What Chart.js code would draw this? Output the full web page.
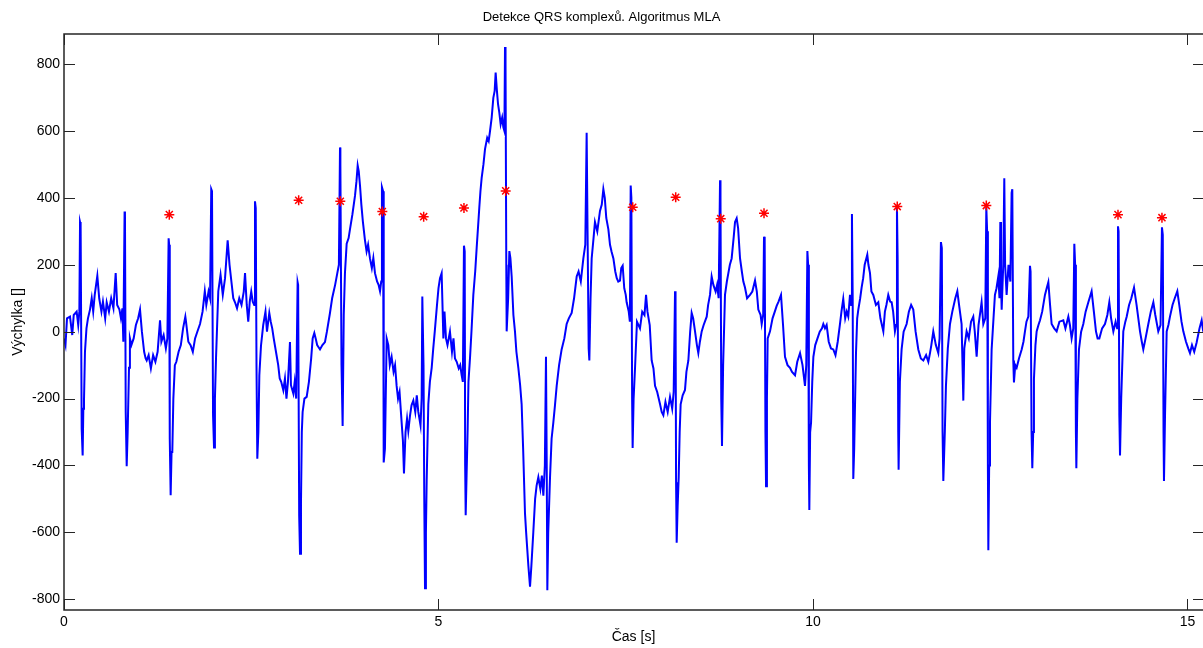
<!DOCTYPE html>
<html>
<head>
<meta charset="utf-8">
<script src="https://cdn.jsdelivr.net/npm/chart.js@4.4.1/dist/chart.umd.min.js"></script>
<style>
html,body{margin:0;padding:0;background:#fff;overflow:hidden;}
#wrap{width:1203px;height:648px;position:relative;}
</style>
</head>
<body>
<div id="wrap"><canvas id="c" width="1203" height="648"></canvas></div>
<script>
const chartTitle = 'Detekce QRS komplexů. Algoritmus MLA';
const xTitle = 'Čas [s]';
const yTitle = 'Výchylka []';
const xTickValues = [0, 5, 10, 15];
const yTickValues = [-800, -600, -400, -200, 0, 200, 400, 600, 800];

// ECG signal: [time s, amplitude]
const ecgPoints = [
[0.00,-20],[0.02,-40],[0.04,40],[0.08,45],[0.11,-10],[0.13,50],[0.169,60],[0.19,20],[0.205,60],
[0.214,328],[0.222,320],[0.236,-290],[0.249,-370],[0.258,-230],[0.267,-206],[0.28,-60],[0.30,10],
[0.32,40],[0.347,66],[0.37,100],[0.39,60],[0.41,110],[0.445,167],[0.47,100],[0.50,60],[0.52,90],[0.55,40],[0.57,88],[0.60,60],[0.63,100],[0.66,70],[0.69,175],[0.71,80],[0.74,66],[0.76,40],[0.78,70],[0.792,-30],
[0.809,359],[0.814,350],[0.824,-240],[0.837,-402],[0.85,-300],[0.868,-108],[0.88,-20],[0.90,-40],
[0.93,-20],[0.96,20],[0.99,40],[1.015,66],[1.04,0],[1.07,-60],[1.09,-80],[1.104,-86],[1.13,-70],[1.16,-110],[1.19,-70],[1.22,-90],[1.25,-60],[1.282,34],[1.30,-30],[1.33,-10],[1.36,-50],[1.38,-20],
[1.397,279],[1.404,260],[1.412,-320],[1.424,-489],[1.436,-360],[1.446,-360],[1.46,-200],[1.48,-100],[1.50,-90],[1.53,-60],[1.56,-40],[1.59,10],[1.62,45],[1.629,30],[1.66,-30],[1.69,-40],[1.72,-60],[1.75,-20],[1.78,0],[1.816,23],[1.85,60],[1.88,121],[1.90,80],[1.93,120],[1.95,100],
[1.966,426],[1.976,420],[1.99,-250],[2.003,-346],[2.015,-200],[2.03,-76],[2.06,121],[2.09,170],[2.12,110],[2.15,160],[2.185,273],[2.21,200],[2.24,140],[2.26,100],[2.283,88],[2.31,70],[2.34,100],[2.37,80],[2.40,120],[2.417,175],[2.44,80],[2.46,30],[2.48,90],[2.50,120],[2.52,90],[2.54,80],
[2.55,390],[2.56,370],[2.57,-100],[2.581,-380],[2.595,-300],[2.608,-130],[2.63,-42],[2.66,20],[2.69,60],[2.71,0],[2.741,56],[2.76,30],[2.78,10],[2.80,-20],[2.83,-60],[2.86,-100],[2.88,-140],[2.90,-150],[2.928,-175],[2.95,-140],[2.97,-200],[2.99,-150],[3.017,-31],[3.03,-160],[3.062,-185],[3.08,-150],[3.10,-200],
[3.119,148],[3.126,140],[3.14,-550],[3.151,-664],[3.164,-511],[3.175,-300],[3.186,-240],[3.21,-200],[3.24,-195],[3.27,-150],[3.30,-80],[3.32,-20],[3.342,-4],[3.36,-20],[3.38,-40],[3.418,-53],[3.45,-40],[3.484,-31],[3.51,0],[3.551,56],[3.58,100],[3.60,120],[3.62,140],[3.649,175],[3.67,200],
[3.685,551],[3.69,500],[3.705,-100],[3.72,-282],[3.735,50],[3.751,175],[3.774,263],[3.80,280],[3.818,306],[3.85,350],[3.885,406],[3.905,450],[3.921,497],[3.935,480],[3.952,437],[3.97,380],[3.99,330],[4.018,274],[4.04,240],[4.06,260],[4.085,219],[4.11,190],[4.13,220],[4.152,175],[4.18,150],[4.20,140],[4.219,121],[4.235,150],
[4.245,432],[4.26,420],[4.265,-200],[4.272,-391],[4.285,-350],[4.308,-20],[4.33,-40],[4.35,-100],[4.374,-75],[4.40,-120],[4.42,-100],[4.441,-162],[4.46,-200],[4.48,-180],[4.508,-272],[4.525,-326],[4.539,-424],[4.56,-300],[4.58,-260],[4.597,-297],[4.62,-250],[4.64,-220],[4.664,-206],[4.69,-240],[4.71,-190],[4.73,-239],[4.76,-280],[4.775,-200],
[4.784,105],[4.80,-100],[4.81,-500],[4.82,-767],[4.832,-600],[4.842,-447],[4.864,-217],[4.885,-150],[4.909,-108],[4.93,-50],[4.95,0],[4.98,80],[5.00,130],[5.02,160],[5.042,175],[5.065,-20],
[5.08,60],[5.10,-20],[5.12,-40],[5.153,0],[5.18,-60],[5.20,-20],[5.22,-80],[5.243,-90],[5.27,-110],[5.29,-100],[5.309,-130],[5.325,-150],
[5.34,257],[5.35,240],[5.356,-400],[5.363,-549],[5.375,-430],[5.389,-294],[5.40,-150],[5.421,-77],[5.44,0],[5.465,110],[5.49,180],[5.51,252],[5.53,320],[5.545,372],[5.56,420],[5.576,459],[5.60,500],[5.621,546],[5.65,580],[5.67,570],[5.688,600],[5.71,640],[5.732,699],[5.75,720],[5.763,775],[5.78,720],[5.795,680],[5.812,655],[5.83,620],[5.85,640],[5.866,611],[5.88,600],
[5.888,851],[5.895,800],[5.905,200],[5.91,1],[5.93,100],[5.946,241],[5.96,220],[5.977,165],[6.00,50],[6.021,1],[6.04,-60],[6.066,-108],[6.09,-160],[6.11,-217],[6.13,-350],[6.155,-544],[6.17,-600],[6.186,-653],[6.20,-700],[6.222,-762],[6.24,-700],[6.266,-599],[6.29,-500],[6.31,-460],[6.333,-435],[6.36,-470],[6.38,-430],[6.40,-490],[6.42,-400],
[6.435,-75],[6.445,-400],[6.453,-773],[6.465,-600],[6.489,-435],[6.51,-320],[6.533,-272],[6.555,-220],[6.578,-162],[6.61,-100],[6.644,-53],[6.68,-20],[6.711,23],[6.74,40],[6.778,56],[6.81,100],[6.845,165],[6.87,180],[6.90,150],[6.934,219],[6.96,260],
[6.978,595],[6.99,300],[7.005,-50],[7.014,-86],[7.03,100],[7.045,219],[7.07,280],[7.089,328],[7.12,300],[7.156,361],[7.18,380],[7.201,426],[7.22,400],[7.24,340],[7.268,306],[7.29,260],[7.31,240],[7.335,219],[7.36,180],[7.38,160],[7.40,150],[7.423,153],[7.44,190],[7.459,197],[7.48,130],[7.50,110],[7.512,88],[7.54,60],[7.555,30],
[7.566,437],[7.575,400],[7.585,-200],[7.592,-348],[7.605,-200],[7.624,-108],[7.65,30],[7.69,10],[7.72,60],[7.75,50],[7.771,110],[7.79,60],[7.82,20],[7.846,-86],[7.87,-110],[7.891,-162],[7.92,-180],[7.958,-217],[7.98,-240],[8.002,-250],[8.03,-210],[8.06,-240],[8.091,-195],[8.12,-230],[8.14,-180],
[8.158,121],[8.165,80],[8.172,-450],[8.18,-631],[8.193,-520],[8.207,-435],[8.22,-300],[8.233,-217],[8.26,-190],[8.291,-174],[8.31,-120],[8.336,-86],[8.36,0],[8.38,56],[8.40,40],[8.425,1],[8.45,-40],[8.469,-64],[8.49,-30],[8.514,1],[8.54,20],[8.581,45],[8.60,80],[8.625,110],[8.647,165],[8.67,140],[8.70,120],[8.72,140],[8.74,100],
[8.759,453],[8.765,400],[8.775,-200],[8.785,-342],[8.80,-100],[8.825,110],[8.85,150],[8.87,175],[8.89,200],[8.914,219],[8.94,280],[8.959,328],[8.981,339],[9.00,310],[9.026,219],[9.05,180],[9.07,150],[9.092,132],[9.12,100],[9.159,110],[9.19,120],[9.226,153],[9.25,120],[9.27,66],[9.30,50],[9.315,23],[9.335,50],
[9.346,284],[9.355,270],[9.365,-300],[9.373,-462],[9.385,-200],[9.395,-20],[9.426,1],[9.46,40],[9.49,60],[9.515,77],[9.54,90],[9.573,110],[9.60,20],[9.626,-75],[9.66,-100],[9.693,-108],[9.72,-120],[9.76,-130],[9.79,-90],[9.827,-64],[9.86,-100],[9.893,-162],[9.91,-100],
[9.925,241],[9.935,200],[9.945,-400],[9.951,-533],[9.962,-300],[9.974,-272],[9.99,-150],[10.005,-75],[10.03,-40],[10.06,-20],[10.09,0],[10.12,10],[10.138,23],[10.16,10],[10.182,20],[10.21,-30],[10.24,-50],[10.271,-53],[10.30,-70],[10.33,-30],[10.36,23],[10.38,60],[10.404,98],[10.43,40],[10.45,60],[10.471,45],[10.494,110],[10.51,80],
[10.52,352],[10.53,100],[10.538,-440],[10.55,-350],[10.574,-64],[10.59,40],[10.605,66],[10.63,100],[10.649,132],[10.67,160],[10.69,200],[10.725,230],[10.74,200],[10.761,175],[10.78,120],[10.805,110],[10.84,80],[10.872,88],[10.90,40],[10.939,1],[10.96,60],[10.98,80],[11.005,110],[11.03,90],[11.05,88],[11.07,60],[11.094,1],[11.11,20],
[11.121,372],[11.13,220],[11.138,-300],[11.143,-413],[11.16,-150],[11.183,-53],[11.21,0],[11.25,23],[11.28,60],[11.31,80],[11.339,66],[11.37,0],[11.406,-53],[11.44,-80],[11.473,-86],[11.51,-70],[11.54,-90],[11.562,-64],[11.58,-40],[11.606,1],[11.64,-40],[11.673,-64],[11.69,-20],
[11.708,268],[11.72,250],[11.73,-300],[11.74,-446],[11.76,-300],[11.775,-162],[11.80,-50],[11.829,23],[11.86,60],[11.90,100],[11.927,121],[11.95,80],[11.984,23],[12.007,-206],[12.02,-50],[12.051,1],[12.08,-20],[12.11,30],[12.14,45],[12.16,0],[12.185,-75],[12.21,20],[12.251,88],[12.274,23],[12.30,40],
[12.314,372],[12.325,300],[12.335,-400],[12.341,-653],[12.352,-400],[12.363,-272],[12.385,-53],[12.41,40],[12.429,110],[12.45,130],[12.474,165],[12.49,100],[12.501,328],[12.51,150],[12.519,66],[12.54,200],[12.554,459],[12.565,200],[12.585,110],[12.61,200],[12.635,150],[12.652,415],[12.661,426],[12.674,-86],[12.683,-152],[12.70,-100],[12.719,-108],[12.75,-80],[12.786,-53],[12.81,-30],[12.83,1],[12.85,30],[12.875,45],
[12.897,197],[12.905,180],[12.918,-300],[12.928,-408],[12.94,-300],[12.95,-141],[12.97,-40],[12.986,1],[13.01,20],[13.031,34],[13.06,60],[13.097,110],[13.12,130],[13.142,148],[13.165,80],[13.186,23],[13.22,10],[13.253,1],[13.29,30],[13.342,34],[13.37,10],[13.409,45],[13.43,20],[13.453,-20],[13.475,10],
[13.489,263],[13.50,200],[13.51,-300],[13.516,-408],[13.53,-200],[13.551,-53],[13.58,0],[13.609,23],[13.64,60],[13.676,88],[13.72,121],[13.75,60],[13.778,1],[13.80,-20],[13.823,-20],[13.86,10],[13.898,23],[13.93,50],[13.956,88],[13.98,40],[14.01,1],[14.04,30],[14.06,10],
[14.072,315],[14.08,300],[14.09,-250],[14.099,-370],[14.115,-200],[14.143,1],[14.17,30],[14.188,45],[14.22,80],[14.25,100],[14.286,132],[14.32,80],[14.366,1],[14.39,-30],[14.41,-53],[14.44,-20],[14.477,23],[14.51,60],[14.544,88],[14.57,50],[14.61,1],[14.64,20],
[14.659,312],[14.67,290],[14.68,-300],[14.686,-446],[14.70,-250],[14.722,1],[14.745,20],[14.766,45],[14.80,80],[14.83,100],[14.864,121],[14.89,80],[14.92,30],[14.944,1],[14.98,-30],[15.01,-50],[15.033,-64],[15.06,-40],[15.09,-60],[15.122,-32],[15.16,10],[15.189,34],[15.21,0]
];

// Detected QRS marks (red asterisks)
const peakTimes = [1.406, 3.133, 3.689, 4.25, 4.802, 5.34, 5.897, 7.593, 8.167, 8.768, 9.346, 11.125, 12.314, 14.072, 14.659];
const peakValues = [350, 393, 390, 359, 344, 370, 421, 372, 402, 338, 354, 374, 377, 350, 341];

const X_MIN = 0, X_MAX = 15.207, Y_MIN = -832, Y_MAX = 890;
const FONT = "'Liberation Sans', Arial, Helvetica, sans-serif";

const matlabAxes = {
  id: 'matlabAxes',
  afterDatasetsDraw(chart) {
    const {ctx, chartArea: a, scales: {x, y}} = chart;
    ctx.save();
    ctx.strokeStyle = '#262626';
    ctx.lineWidth = 1.5;
    ctx.beginPath();
    ctx.moveTo(a.right + 2, a.top);
    ctx.lineTo(a.left, a.top);
    ctx.lineTo(a.left, a.bottom);
    ctx.lineTo(a.right + 2, a.bottom);
    ctx.stroke();
    ctx.lineWidth = 1;
    ctx.beginPath();
    const tl = 11;
    y.ticks.forEach(t => {
      const py = Math.round(y.getPixelForValue(t.value)) + 0.5;
      ctx.moveTo(a.left, py); ctx.lineTo(a.left + tl, py);
      ctx.moveTo(a.right - 10, py); ctx.lineTo(a.right, py);
    });
    x.ticks.forEach(t => {
      const px = Math.round(x.getPixelForValue(t.value)) + 0.5;
      ctx.moveTo(px, a.bottom); ctx.lineTo(px, a.bottom - tl);
      ctx.moveTo(px, a.top); ctx.lineTo(px, a.top + tl);
    });
    ctx.stroke();
    ctx.restore();
  }
};

new Chart(document.getElementById('c'), {
  type: 'scatter',
  data: {
    datasets: [
      {
        label: 'signal',
        data: ecgPoints.map(p => ({x: p[0], y: p[1]})),
        showLine: true,
        borderColor: '#0000ff',
        backgroundColor: '#0000ff',
        borderWidth: 2,
        pointRadius: 0,
        tension: 0,
        order: 2
      },
      {
        label: 'QRS',
        data: peakTimes.map((t, i) => ({x: t, y: peakValues[i]})),
        showLine: false,
        pointStyle: 'star',
        pointRadius: 5,
        borderColor: '#ff0000',
        backgroundColor: '#ff0000',
        borderWidth: 1.5,
        order: 1
      }
    ]
  },
  options: {
    responsive: false,
    animation: false,
    events: [],
    layout: {autoPadding: false, padding: {left: 0, right: 0, top: 0, bottom: 0}},
    plugins: {
      legend: {display: false},
      tooltip: {enabled: false},
      title: {
        display: true,
        text: chartTitle,
        color: '#000',
        font: {family: FONT, size: 13, weight: 'normal'},
        padding: {top: 9.2, bottom: 9.2}
      }
    },
    scales: {
      x: {
        type: 'linear',
        min: X_MIN, max: X_MAX,
        grid: {display: false, drawTicks: false},
        border: {display: false},
        afterBuildTicks: ax => { ax.ticks = xTickValues.map(v => ({value: v})); },
        afterFit: s => { s.height = 38; s.paddingLeft = 0; s.paddingRight = 0; },
        ticks: {color: '#000', font: {family: FONT, size: 14}, padding: 4, maxRotation: 0, autoSkip: false,
                callback: v => String(v)},
        title: {display: true, text: xTitle, color: '#000', font: {family: FONT, size: 14}, padding: {top: 0, bottom: 2}}
      },
      y: {
        type: 'linear',
        min: Y_MIN, max: Y_MAX,
        grid: {display: false, drawTicks: false},
        border: {display: false},
        afterBuildTicks: ax => { ax.ticks = yTickValues.map(v => ({value: v})); },
        afterFit: s => { s.width = 64; s.paddingTop = 0; s.paddingBottom = 0; },
        ticks: {color: '#000', font: {family: FONT, size: 14}, padding: 4, autoSkip: false,
                callback: v => String(v)},
        title: {display: true, text: yTitle, color: '#000', font: {family: FONT, size: 14}, padding: {top: 10, bottom: 0}}
      }
    }
  },
  plugins: [matlabAxes]
});
</script>
</body>
</html>
